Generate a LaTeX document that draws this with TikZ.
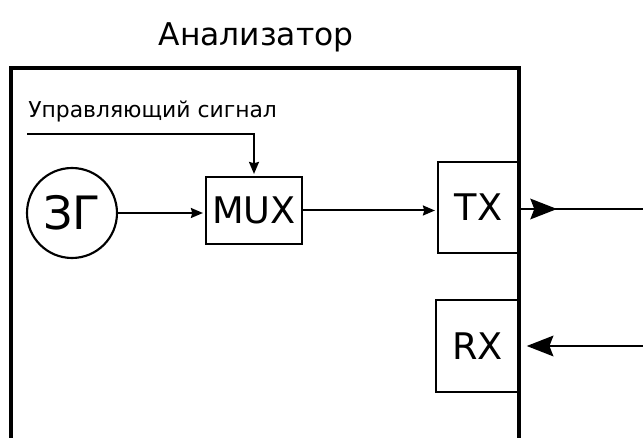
\documentclass[tikz,border=0pt]{standalone}
\usepackage{fontspec}
\setmainfont{DejaVu Sans}
\usetikzlibrary{arrows.meta}
\begin{document}
\begin{tikzpicture}[x=0.75pt,y=-0.75pt,
  blk/.style={draw,line width=1.6pt,inner sep=0pt,font=\fontsize{27.5}{32}\selectfont},
  conn/.style={line width=1.5pt},
  small/.style={conn,-{Stealth[length=9pt,width=7.5pt,inset=1pt]},shorten >=1.5pt},
  big/.style={conn,-{Stealth[length=20pt,width=15.5pt,inset=3pt]}},
  wall/.style={line width=2.8pt}]
\useasboundingbox (0,0) rectangle (643,438);
% enclosure
\coordinate (bl) at (11,440);
\coordinate (tl) at (11,68);
\coordinate (tr) at (519,68);
\coordinate (br) at (519,440);
\node[font=\fontsize{23.5}{28}\selectfont] (title) at (256,37) {Анализатор};
% blocks
\node[blk,circle,minimum size=67.5pt,font=\fontsize{34.5}{40}\selectfont] (zg) at (72,213) {ЗГ};
\node[blk,minimum width=72pt,minimum height=50.25pt] (mux) at (254,210.5) {MUX};
\node[blk,minimum width=60.75pt,minimum height=68.25pt] (tx) at (478.5,207.5) {TX};
\node[blk,minimum width=62.25pt,minimum height=69pt] (rx) at (477.5,346) {RX};
\draw[wall] (bl) -- (tl) -- (tr) -- (br);
% control signal
\node[anchor=base west,inner sep=0pt,font=\fontsize{16.4}{19}\selectfont] (ctl) at (28,118) {Управляющий сигнал};
\coordinate (cs) at (27,134);
\draw[small] (cs) -| (mux.north);
% connectors
\draw[small] (zg.east) -- (zg.east -| mux.west);
\draw[small] (mux.east) -- (mux.east -| tx.west);
\coordinate (txout) at (643,209);
\coordinate (txtip) at (557,209);
\draw[conn] (tx.east |- txout) -- (txout);
\draw[big] (tx.east |- txout) -- (txtip);
\coordinate (rxin) at (643,346);
\draw[big,shorten >=5pt] (rxin) -- (rx.east);
\end{tikzpicture}
\end{document}
